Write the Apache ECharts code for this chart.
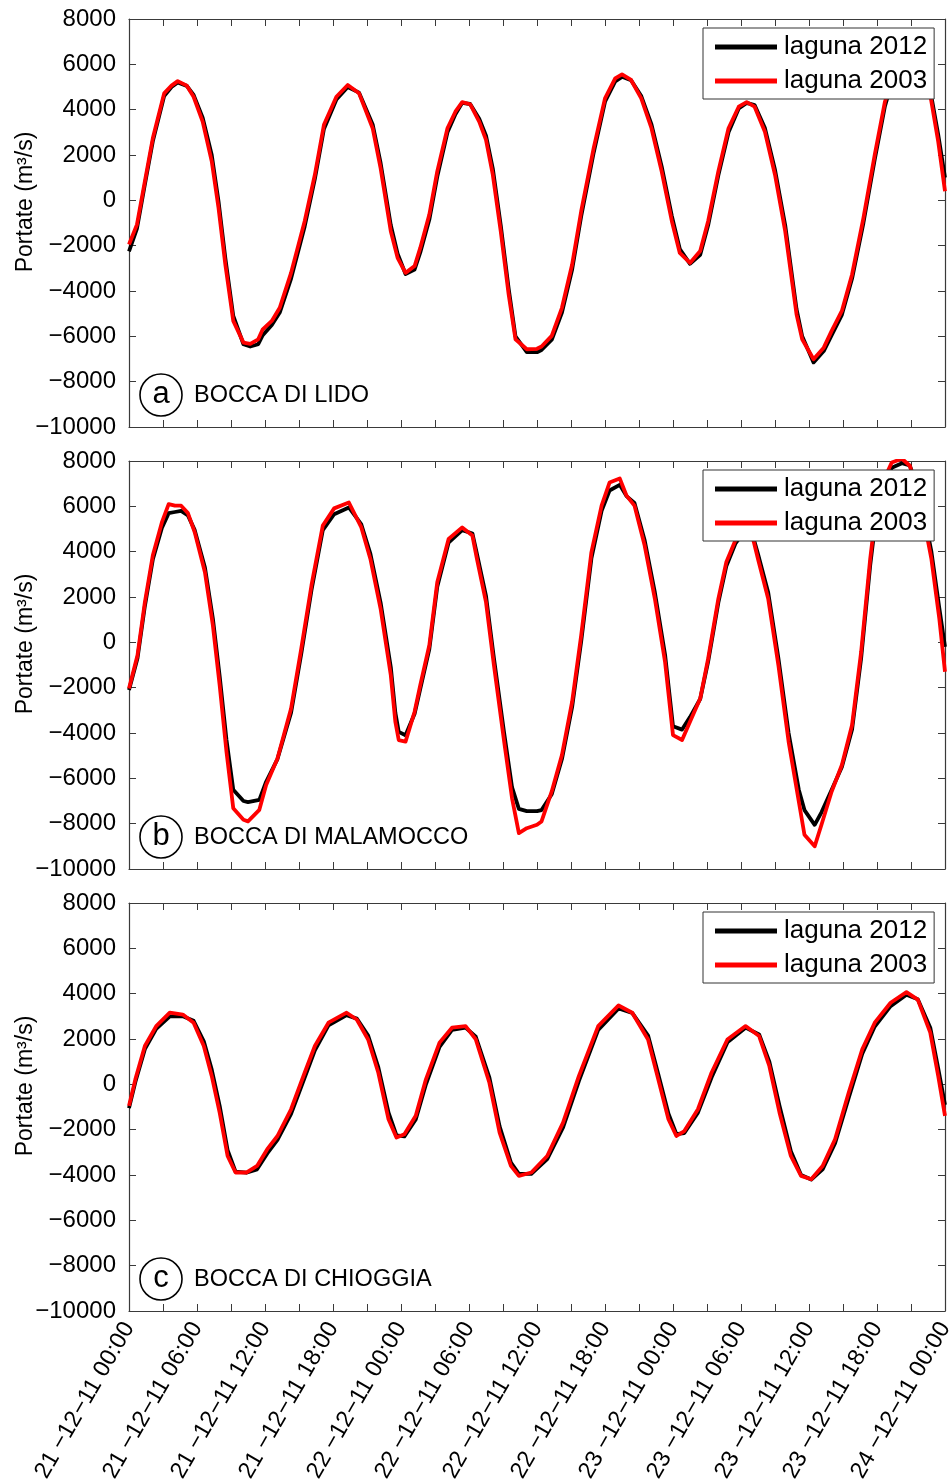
<!DOCTYPE html>
<html>
<head>
<meta charset="utf-8">
<title>Portate alle bocche di porto</title>
<script src="https://cdn.jsdelivr.net/npm/echarts@6/dist/echarts.min.js"></script>
<style>
  html, body { margin: 0; padding: 0; background: #fff; }
  #chart { width: 951px; height: 1479px; }
</style>
</head>
<body>
<div id="chart"></div>
<script>
// Hours since 21-12-11 00:00
const hoursLido = [0, 0.7, 1.4, 2.1, 3.1, 3.75, 4.3, 5.1, 5.7, 6.5, 7.3, 7.9, 8.5, 9.2, 10.1, 10.7, 11.4, 11.8, 12.6, 13.3, 14.3, 15.5, 16.4, 17.2, 18.3, 19.3, 20.3, 21.5, 22.2, 23.1, 23.7, 24.4, 25.2, 25.7, 26.5, 27.2, 28.1, 28.8, 29.4, 30.1, 30.9, 31.5, 32.1, 32.8, 33.5, 34.1, 35.1, 36.0, 36.4, 37.3, 38.2, 39.1, 39.9, 41.0, 42.0, 42.9, 43.5, 44.3, 45.2, 46.1, 47.0, 47.9, 48.6, 49.5, 50.4, 51.1, 52.0, 52.9, 53.8, 54.5, 55.2, 56.1, 57.0, 57.9, 58.9, 59.4, 60.4, 61.3, 62.0, 62.9, 63.8, 64.8, 65.8, 66.7, 67.6, 68.6, 69.6, 70.7, 71.4, 72];
const lido2012 = [-2250, -1250, 700, 2600, 4600, 5000, 5200, 5050, 4650, 3650, 2000, -50, -2550, -5100, -6350, -6450, -6350, -5950, -5500, -4950, -3450, -1150, 950, 3150, 4450, 5000, 4750, 3350, 1650, -1100, -2350, -3250, -3050, -2300, -850, 1050, 3000, 3800, 4300, 4250, 3600, 2850, 1400, -1100, -3900, -6000, -6700, -6700, -6600, -6150, -4950, -3050, -700, 2100, 4350, 5250, 5450, 5300, 4600, 3350, 1500, -700, -2150, -2800, -2400, -1100, 1100, 3000, 4050, 4300, 4200, 3200, 1350, -1100, -4800, -6000, -7150, -6650, -5950, -5050, -3450, -1000, 1800, 4150, 5700, 6200, 6000, 4850, 2900, 1000];
const lido2003 = [-1950, -1070, 840, 2740, 4720, 5060, 5260, 5060, 4570, 3470, 1720, -340, -2830, -5320, -6280, -6330, -6130, -5690, -5320, -4740, -3200, -920, 1130, 3330, 4570, 5090, 4720, 3180, 1420, -1360, -2540, -3200, -2900, -2100, -630, 1280, 3180, 3910, 4330, 4240, 3470, 2670, 1130, -1360, -4150, -6130, -6570, -6550, -6450, -5980, -4740, -2830, -480, 2300, 4500, 5380, 5560, 5310, 4500, 3180, 1280, -920, -2320, -2760, -2240, -920, 1280, 3180, 4130, 4330, 4130, 3040, 1130, -1360, -5030, -6130, -7010, -6500, -5760, -4880, -3270, -780, 2010, 4350, 5800, 6250, 5900, 4650, 2600, 400];

const hoursMalamocco = [0, 0.75, 1.4, 2.1, 2.9, 3.5, 4.05, 4.6, 5.2, 5.8, 6.7, 7.4, 8.0, 8.6, 9.2, 10.1, 10.5, 11.5, 12.1, 13.1, 14.3, 15.2, 16.1, 17.1, 18.1, 19.4, 20.5, 21.3, 22.2, 23.1, 23.5, 23.8, 24.4, 25.2, 25.7, 26.5, 27.2, 28.2, 29.4, 30.3, 30.7, 31.5, 32.2, 33.1, 33.8, 34.4, 35.1, 36.0, 36.4, 37.3, 38.2, 39.1, 39.9, 40.8, 41.7, 42.4, 43.3, 43.9, 44.6, 45.5, 46.4, 47.3, 48.0, 48.8, 49.5, 50.4, 51.1, 52.0, 52.7, 53.5, 54.3, 55.1, 55.5, 56.4, 57.3, 58.2, 59.1, 59.6, 60.5, 61.1, 62.0, 62.9, 63.8, 64.6, 65.4, 66.1, 67.3, 68.2, 68.9, 69.9, 70.8, 71.5, 72];
const malamocco2012 = [-2100, -700, 1600, 3650, 5050, 5700, 5750, 5800, 5600, 4950, 3300, 1050, -1500, -4300, -6500, -7000, -7050, -6950, -6150, -5150, -3100, -500, 2300, 4950, 5650, 5950, 5200, 3900, 1750, -1100, -3100, -3950, -4100, -3150, -2050, -300, 2450, 4400, 4950, 4800, 3900, 2050, -700, -4000, -6400, -7350, -7450, -7450, -7400, -6700, -5150, -2850, 50, 3700, 5800, 6700, 6950, 6450, 6150, 4500, 2200, -550, -3700, -3850, -3300, -2500, -850, 1750, 3350, 4350, 4900, 4600, 3900, 2200, -700, -4000, -6500, -7400, -8050, -7500, -6500, -5500, -3850, -700, 3400, 6300, 7700, 7900, 7800, 6300, 4000, 1500, -200];
const malamocco2003 = [-2040, -570, 1770, 3830, 5290, 6100, 6030, 6030, 5700, 4850, 3090, 750, -1890, -4820, -7320, -7830, -7900, -7390, -6290, -5120, -2920, -280, 2510, 5150, 5910, 6170, 5070, 3680, 1480, -1450, -3500, -4310, -4380, -3060, -1890, -130, 2650, 4560, 5070, 4710, 3680, 1770, -1010, -4380, -6880, -8420, -8200, -8050, -7900, -6580, -4970, -2620, 310, 3970, 6030, 7050, 7230, 6470, 6030, 4270, 1920, -870, -4090, -4310, -3500, -2480, -720, 1920, 3530, 4490, 5000, 4490, 3680, 1920, -1010, -4380, -7020, -8490, -9000, -8050, -6580, -5410, -3650, -430, 3680, 6610, 7930, 8100, 7790, 6030, 3680, 1040, -1300];

const hoursChioggia = [0, 0.56, 1.4, 2.4, 3.6, 4.75, 5.7, 6.6, 7.3, 8.0, 8.7, 9.4, 10.35, 11.3, 12.2, 13.1, 14.3, 15.5, 16.4, 17.6, 19.2, 20.1, 21.1, 22.0, 22.9, 23.6, 24.3, 25.3, 26.2, 27.4, 28.5, 29.7, 30.6, 31.8, 32.7, 33.7, 34.4, 35.5, 36.9, 38.3, 39.7, 41.4, 43.2, 44.4, 45.8, 46.7, 47.6, 48.3, 49.0, 50.2, 51.4, 52.8, 54.4, 55.6, 56.5, 57.4, 58.4, 59.3, 60.2, 61.2, 62.3, 63.5, 64.7, 65.8, 67.2, 68.6, 69.6, 70.7, 71.4, 72];
const chioggia2012 = [-1050, 100, 1550, 2450, 3000, 3000, 2800, 1900, 650, -950, -2900, -3850, -3900, -3750, -3050, -2450, -1300, 300, 1500, 2600, 3050, 2900, 2150, 750, -1250, -2250, -2300, -1550, 0, 1650, 2400, 2500, 2100, 300, -1850, -3450, -3950, -3950, -3300, -1900, 150, 2400, 3350, 3150, 2150, 450, -1300, -2200, -2150, -1250, 300, 1850, 2500, 2200, 1000, -950, -2950, -4000, -4200, -3750, -2600, -600, 1350, 2550, 3450, 3950, 3750, 2500, 700, -900];
const chioggia2003 = [-950, 220, 1690, 2570, 3160, 3080, 2720, 1690, 370, -1250, -3160, -3890, -3890, -3600, -2860, -2280, -1100, 510, 1690, 2720, 3160, 2860, 1980, 510, -1540, -2350, -2200, -1390, 220, 1840, 2500, 2570, 1980, 70, -2130, -3600, -4040, -3890, -3160, -1690, 370, 2570, 3480, 3160, 1980, 220, -1540, -2280, -2060, -1100, 510, 1980, 2570, 2130, 810, -1250, -3160, -4040, -4190, -3600, -2420, -370, 1540, 2720, 3600, 4070, 3740, 2280, 370, -1390];

const timeLabels = ['21 −12−11 00:00', '21 −12−11 06:00', '21 −12−11 12:00', '21 −12−11 18:00', '22 −12−11 00:00', '22 −12−11 06:00', '22 −12−11 12:00', '22 −12−11 18:00', '23 −12−11 00:00', '23 −12−11 06:00', '23 −12−11 12:00', '23 −12−11 18:00', '24 −12−11 00:00'];
const panelTags = ['a', 'b', 'c'];
const panelNames = ['BOCCA DI LIDO', 'BOCCA DI MALAMOCCO', 'BOCCA DI CHIOGGIA'];
const seriesNames = ['laguna 2012', 'laguna 2003'];

const FONT = "'Liberation Sans', Arial, Helvetica, sans-serif";
const AXIS_COLOR = '#3a3a3a';

const panels = [
  { hours: hoursLido, s2012: lido2012, s2003: lido2003 },
  { hours: hoursMalamocco, s2012: malamocco2012, s2003: malamocco2003 },
  { hours: hoursChioggia, s2012: chioggia2012, s2003: chioggia2003 }
];

const gridTops = [19, 461, 903];
const gridHeight = 408;

const pairs = (hours, vals) => hours.map((h, i) => [h, vals[i]]);
const minus = (s) => String(s).replace('-', '\u2212');

const grids = [], xAxes = [], yAxes = [], series = [], legends = [], graphics = [];

panels.forEach((p, i) => {
  grids.push({
    left: 129, right: 6, top: gridTops[i], height: gridHeight,
    containLabel: false, outerBoundsMode: 'none'
  });

  const tick = { show: true, inside: true, length: 7, lineStyle: { color: AXIS_COLOR, width: 1 } };
  const line = { show: true, onZero: false, lineStyle: { color: AXIS_COLOR, width: 1.2 } };

  // bottom time axis
  xAxes.push({
    type: 'value', gridIndex: i, position: 'bottom', min: 0, max: 72, interval: 3,
    axisLine: line, axisTick: tick, splitLine: { show: false },
    axisLabel: {
      show: i === 2, rotate: 60, margin: 13, fontSize: 23.5, color: '#000', fontFamily: FONT,
      formatter: (v) => (v % 6 === 0 ? timeLabels[v / 6] : '')
    }
  });
  // top mirror axis
  xAxes.push({
    type: 'value', gridIndex: i, position: 'top', min: 0, max: 72, interval: 3,
    axisLine: line, axisTick: tick, splitLine: { show: false }, axisLabel: { show: false }
  });
  // left flow axis
  yAxes.push({
    type: 'value', gridIndex: i, position: 'left', min: -10000, max: 8000, interval: 2000,
    axisLine: line, axisTick: tick, splitLine: { show: false },
    axisLabel: { fontSize: 24, color: '#000', fontFamily: FONT, margin: 13, formatter: minus }
  });
  // right mirror axis
  yAxes.push({
    type: 'value', gridIndex: i, position: 'right', min: -10000, max: 8000, interval: 2000,
    axisLine: line, axisTick: tick, splitLine: { show: false }, axisLabel: { show: false }
  });

  const common = {
    type: 'line', xAxisIndex: i * 2, yAxisIndex: i * 2, showSymbol: false,
    smooth: false, clip: true, animation: false
  };
  series.push(Object.assign({}, common, {
    name: seriesNames[0], data: pairs(p.hours, p.s2012),
    lineStyle: { color: '#000000', width: 3.8, join: 'round' }, itemStyle: { color: '#000000' }
  }));
  series.push(Object.assign({}, common, {
    name: seriesNames[1], data: pairs(p.hours, p.s2003),
    lineStyle: { color: '#ff0000', width: 3.8, join: 'round' }, itemStyle: { color: '#ff0000' }
  }));

  legends.push({
    data: seriesNames, orient: 'vertical', left: 703, top: gridTops[i] + 9,
    icon: 'rect', itemWidth: 62, itemHeight: 5, itemGap: 8,
    padding: [6, 7, 5, 12], backgroundColor: '#fff',
    borderColor: '#333', borderWidth: 1, borderRadius: 0,
    selectedMode: false,
    textStyle: { fontSize: 26, color: '#000', fontFamily: FONT, padding: [0, 0, 0, 2] }
  });

  const tagY = gridTops[i] + 376;
  graphics.push({
    type: 'circle', shape: { cx: 161, cy: tagY, r: 21 },
    style: { fill: 'none', stroke: '#000', lineWidth: 1.6 }, z: 100
  });
  graphics.push({
    type: 'text', x: 161, y: tagY - 1, z: 100,
    style: { text: panelTags[i], fontSize: 31, fontFamily: FONT, fill: '#000', align: 'center', verticalAlign: 'middle' }
  });
  graphics.push({
    type: 'text', x: 194, y: tagY + 1, z: 100,
    style: { text: panelNames[i], fontSize: 23.5, fontFamily: FONT, fill: '#000', align: 'left', verticalAlign: 'middle' }
  });
  graphics.push({
    type: 'text', x: 26, y: gridTops[i] + 183, rotation: Math.PI / 2, z: 100,
    style: { text: 'Portate (m³/s)', fontSize: 23, fontFamily: FONT, fill: '#000', align: 'center', verticalAlign: 'middle' }
  });
});

const chart = echarts.init(document.getElementById('chart'), null, { renderer: 'canvas' });
chart.setOption({
  backgroundColor: '#ffffff',
  animation: false,
  textStyle: { fontFamily: FONT },
  grid: grids,
  xAxis: xAxes,
  yAxis: yAxes,
  legend: legends,
  series: series,
  graphic: graphics
});
</script>
</body>
</html>
